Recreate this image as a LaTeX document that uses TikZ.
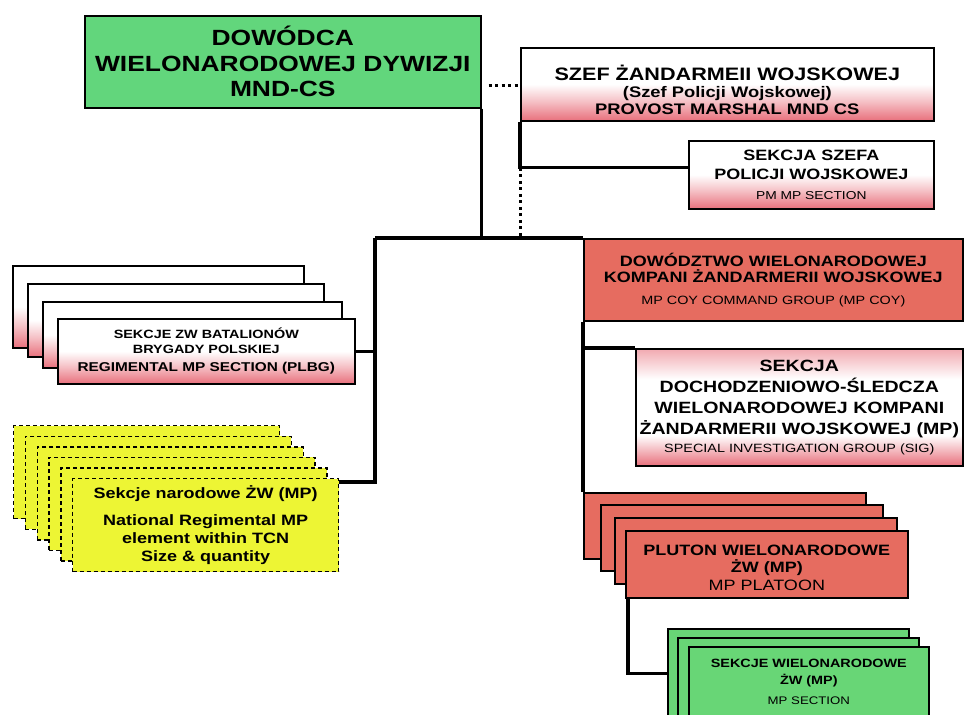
\documentclass[tikz,border=0pt]{standalone}
\usepackage{fontspec}
\setmainfont{Liberation Sans}[FakeStretch=1.2]
\usepackage{xcolor}

\definecolor{cmdgreen}{RGB}{98,214,124}
\definecolor{secgreen}{RGB}{104,214,118}
\definecolor{mppink}{RGB}{232,112,124}
\definecolor{coyred}{RGB}{230,108,96}
\definecolor{natyellow}{RGB}{237,245,52}

% white box going pink at the bottom / at both ends
\pgfdeclareverticalshading{pinkfade}{100bp}{color(0bp)=(mppink); color(25bp)=(mppink); color(38bp)=(mppink!45); color(50bp)=(white); color(100bp)=(white)}
\pgfdeclareverticalshading{pinkboth}{100bp}{color(0bp)=(mppink); color(25bp)=(mppink); color(38bp)=(white); color(62bp)=(white); color(75bp)=(mppink!60); color(100bp)=(mppink!60)}

\tikzset{
	unit/.style={draw=black, line width=1.6pt, inner sep=0pt, anchor=north west, align=center, font=\bfseries},
	natbox/.style={draw=black, line width=1.3pt, dash pattern=on 4pt off 3pt, fill=natyellow, inner sep=0pt, anchor=north west, align=center, minimum width=266pt, minimum height=93pt},
	conn/.style={line width=3.2pt},
	dotline/.style={line width=3pt, dash pattern=on 3pt off 3.5pt},
}

\begin{document}
\begin{tikzpicture}[x=1pt,y=-1pt]

\useasboundingbox (0,0) rectangle (965,714);
\clip (0,0) rectangle (965,714);

% division commander
\node[unit, fill=cmdgreen, minimum width=396pt, minimum height=92pt, font=\bfseries\fontsize{22}{25.5}\selectfont] (cmd) at (84,15) {DOWÓDCA\\WIELONARODOWEJ DYWIZJI\\MND-CS};

% provost marshal and his section
\node[unit, shading=pinkfade, minimum width=413pt, minimum height=73pt, font=\bfseries\fontsize{15.3}{17}\selectfont] (pm) at (520,47) {{\fontsize{18}{20}\selectfont\rule{0pt}{27pt}SZEF ŻANDARMEII WOJSKOWEJ}\\(Szef Policji Wojskowej)\\PROVOST MARSHAL MND CS};
\node[unit, shading=pinkfade, minimum width=245pt, minimum height=68pt, font=\bfseries\fontsize{15}{19}\selectfont] (pmsec) at (688,140) {SEKCJA SZEFA\\POLICJI WOJSKOWEJ\\[1pt]{\mdseries\fontsize{11.5}{13}\selectfont PM MP SECTION}};

% company command group and SIG
\node[unit, fill=coyred, minimum width=379pt, minimum height=82pt, font=\bfseries\fontsize{15}{16.5}\selectfont] (coy) at (583,238) {DOWÓDZTWO WIELONARODOWEJ\\KOMPANI ŻANDARMERII WOJSKOWEJ\\[5pt]{\mdseries\fontsize{12}{14}\selectfont MP COY COMMAND GROUP (MP COY)}};
\node[unit, shading=pinkboth, minimum width=327pt, minimum height=117pt, font=\bfseries\fontsize{16.3}{21}\selectfont] (sig) at (635,348) {SEKCJA\\DOCHODZENIOWO-ŚLEDCZA\\WIELONARODOWEJ KOMPANI\\ŻANDARMERII WOJSKOWEJ (MP)\\[-3pt]{\mdseries\fontsize{12}{14}\selectfont SPECIAL INVESTIGATION GROUP (SIG)}};

% platoons
\foreach \i/\x/\y in {1/583/492, 2/600/504, 3/614/517}
	\node[unit, fill=coyred, minimum width=282pt, minimum height=66pt] (pl\i) at (\x,\y) {};
\node[unit, fill=coyred, minimum width=282pt, minimum height=67pt, font=\bfseries\fontsize{15}{17.5}\selectfont] (pl4) at (625,530) {\rule{0pt}{17pt}PLUTON WIELONARODOWE\\ŻW (MP)\\{\mdseries MP PLATOON}};

% sections (cut by the bottom edge)
\foreach \i/\x/\y in {1/667/628, 2/677/637}
	\node[unit, fill=secgreen, minimum width=241pt, minimum height=90pt] (sec\i) at (\x,\y) {};
\node[unit, fill=secgreen, minimum width=240pt, minimum height=70pt, font=\bfseries\fontsize{12}{17}\selectfont] (sec3) at (688,646) {SEKCJE WIELONARODOWE\\ŻW (MP)\\[3pt]{\mdseries\fontsize{11}{13}\selectfont MP SECTION}};

% polish brigade battalion sections
\foreach \i/\x/\y/\w/\h in {1/12/265/291/82, 2/27/283/296/73, 3/42/301/299/66}
	\node[unit, shading=pinkfade, minimum width=\w pt, minimum height=\h pt] (plbg\i) at (\x,\y) {};
\node[unit, shading=pinkfade, minimum width=297pt, minimum height=65pt, font=\bfseries\fontsize{12}{15}\selectfont] (plbg4) at (57,318) {SEKCJE ZW BATALIONÓW\\BRYGADY POLSKIEJ\\[3pt]{\fontsize{12.8}{15}\selectfont REGIMENTAL MP SECTION (PLBG)}};

% national sections
\foreach \i in {1,...,5} {
	\pgfmathsetmacro\xs{13+(\i-1)*11.8}
	\pgfmathsetmacro\ys{425+(\i-1)*10.6}
	\node[natbox] (nat\i) at (\xs,\ys) {};
}
\node[natbox, font=\bfseries\fontsize{15}{18}\selectfont] (nat6) at (72,478) {Sekcje narodowe ŻW (MP)\\[9pt]National Regimental MP\\element within TCN\\Size \& quantity};

% connectors
\coordinate (trunkL) at (375,238);
\draw[conn] (trunkL) -- (coy.north west);
\draw[conn] (cmd.south east) -- (cmd.south east |- coy.north);
\draw[dotline] ([yshift=-24pt,xshift=7pt]cmd.east) -- ([yshift=-24pt]cmd.east -| pm.west);
\draw[conn] (pm.south west) |- ([yshift=7pt]pmsec.west);
\draw[dotline] ([yshift=7pt]pmsec.west -| pm.south west) -- (pm.south west |- coy.north);
\draw[conn] (trunkL) |- ([yshift=-4pt]nat6.north east);
\draw[conn] (plbg4.east) -- (plbg4.east -| trunkL);
\draw[conn] (coy.south west) -- (pl1.north west);
\draw[conn] (coy.south west |- sig.north) -- (sig.north west);
\draw[conn] ([xshift=3pt]pl4.south west) |- (sec1.west);

\end{tikzpicture}
\end{document}
